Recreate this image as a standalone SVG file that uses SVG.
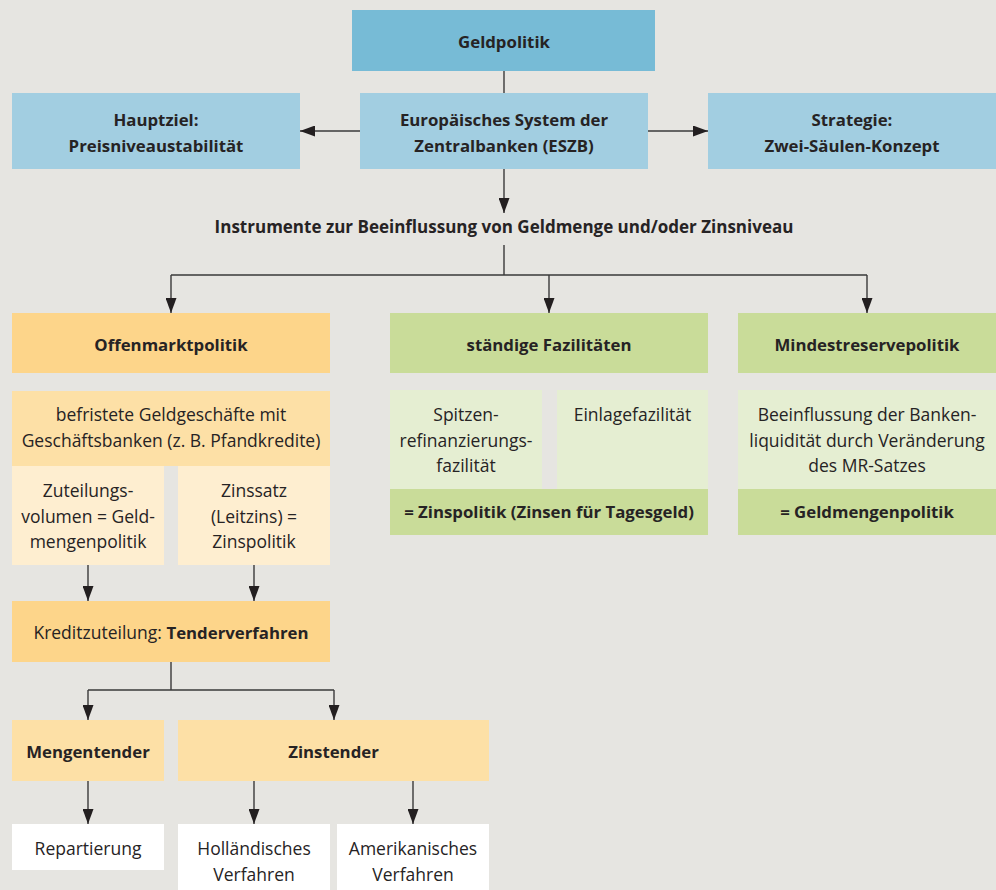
<svg xmlns="http://www.w3.org/2000/svg" width="996" height="890" viewBox="0 0 996 890">
<defs>
<style>
text{font-family:"Open Sans","Liberation Sans",sans-serif;font-size:17.5px;fill:#262324;text-anchor:middle}
.b{font-weight:bold;font-size:16.8px}
.c{stroke:#3a3a3a;stroke-width:1.4;fill:none}
.a{marker-end:url(#ah)}
.blue1{fill:#77bbd6}.blue2{fill:#a2cee1}
.or1{fill:#fdd58a}.or2{fill:#fde0a6}.or3{fill:#feeed0}
.gr1{fill:#c9dc99}.gr2{fill:#e5eed2}.wh{fill:#ffffff}
</style>
<marker id="ah" viewBox="0 0 15 11" refX="15" refY="5.5" markerWidth="15" markerHeight="11" markerUnits="userSpaceOnUse" orient="auto">
<path d="M0,0 L15,5.5 L0,11 z" fill="#231f20"/>
</marker>
</defs>
<rect width="996" height="890" fill="#e6e5e1"/>
<g id="connectors">
<path class="c" d="M504,71 V93"/>
<path class="c a" d="M360,131 H300"/>
<path class="c a" d="M648,131 H708"/>
<path class="c a" d="M504,169 V213"/>
<path class="c" d="M504,245 V275 M171,275 H867"/>
<path class="c a" d="M171,275 V313"/>
<path class="c a" d="M549,275 V313"/>
<path class="c a" d="M867,275 V313"/>
<path class="c a" d="M88,565 V601"/>
<path class="c a" d="M254,565 V601"/>
<path class="c" d="M171,662 V690 M88,690 H334"/>
<path class="c a" d="M88,690 V720"/>
<path class="c a" d="M334,690 V720"/>
<path class="c a" d="M88,781 V824"/>
<path class="c a" d="M254,781 V824"/>
<path class="c a" d="M413,781 V824"/>
</g>
<g id="geldpolitik"><rect class="blue1" x="352" y="10" width="303" height="61"/><text class="b" x="504" y="48">Geldpolitik</text></g>
<g id="hauptziel"><rect class="blue2" x="12" y="93" width="288" height="76"/><text class="b" x="156" y="126">Hauptziel:</text><text class="b" x="156" y="151.5">Preisniveaustabilität</text></g>
<g id="eszb"><rect class="blue2" x="360" y="93" width="288" height="76"/><text class="b" x="504" y="126">Europäisches System der</text><text class="b" x="504" y="151.5">Zentralbanken (ESZB)</text></g>
<g id="strategie"><rect class="blue2" x="708" y="93" width="288" height="76"/><text class="b" x="852" y="126">Strategie:</text><text class="b" x="852" y="151.5">Zwei-Säulen-Konzept</text></g>
<g id="instrumente"><text class="b" x="504" y="233" style="font-size:17px">Instrumente zur Beeinflussung von Geldmenge und/oder Zinsniveau</text></g>
<g id="offenmarkt"><rect class="or1" x="12" y="313" width="318" height="60"/><text class="b" x="171" y="350.5">Offenmarktpolitik</text></g>
<g id="fazilitaeten"><rect class="gr1" x="390" y="313" width="318" height="60"/><text class="b" x="549" y="350.5">ständige Fazilitäten</text></g>
<g id="mindestreserve"><rect class="gr1" x="738" y="313" width="258" height="60"/><text class="b" x="867" y="350.5">Mindestreservepolitik</text></g>
<g id="befristete"><rect class="or2" x="12" y="391" width="318" height="75"/><text x="171" y="421">befristete Geldgeschäfte mit</text><text x="171" y="447">Geschäftsbanken (z. B. Pfandkredite)</text></g>
<g id="zuteilungsvolumen"><rect class="or3" x="12" y="466" width="152" height="99"/><text x="88" y="497">Zuteilungs-</text><text x="88" y="522.5">volumen = Geld-</text><text x="88" y="548">mengenpolitik</text></g>
<g id="zinssatz"><rect class="or3" x="178" y="466" width="152" height="99"/><text x="254" y="497">Zinssatz</text><text x="254" y="522.5">(Leitzins) =</text><text x="254" y="548">Zinspolitik</text></g>
<g id="spitzen"><rect class="gr2" x="390" y="390" width="152" height="99"/><text x="466" y="421">Spitzen-</text><text x="466" y="447">refinanzierungs-</text><text x="466" y="472">fazilität</text></g>
<g id="einlage"><rect class="gr2" x="557" y="390" width="151" height="99"/><text x="632.5" y="421">Einlagefazilität</text></g>
<g id="zinspolitik"><rect class="gr1" x="390" y="489" width="318" height="46"/><text class="b" x="549" y="518">= Zinspolitik (Zinsen für Tagesgeld)</text></g>
<g id="beeinflussung"><rect class="gr2" x="738" y="390" width="258" height="99"/><text x="867" y="421">Beeinflussung der Banken-</text><text x="867" y="447">liquidität durch Veränderung</text><text x="867" y="472">des MR-Satzes</text></g>
<g id="geldmengenpolitik"><rect class="gr1" x="738" y="489" width="258" height="46"/><text class="b" x="867" y="518">= Geldmengenpolitik</text></g>
<g id="kreditzuteilung"><rect class="or1" x="12" y="601" width="318" height="61"/><text x="171" y="639">Kreditzuteilung: <tspan class="b">Tenderverfahren</tspan></text></g>
<g id="mengentender"><rect class="or2" x="12" y="720" width="152" height="61"/><text class="b" x="88" y="757.5">Mengentender</text></g>
<g id="zinstender"><rect class="or2" x="178" y="720" width="311" height="61"/><text class="b" x="333.5" y="757.5">Zinstender</text></g>
<g id="repartierung"><rect class="wh" x="12" y="824" width="152" height="46"/><text x="88" y="855">Repartierung</text></g>
<g id="hollaendisch"><rect class="wh" x="178" y="824" width="152" height="66"/><text x="254" y="855">Holländisches</text><text x="254" y="880.5">Verfahren</text></g>
<g id="amerikanisch"><rect class="wh" x="337" y="824" width="152" height="66"/><text x="413" y="855">Amerikanisches</text><text x="413" y="880.5">Verfahren</text></g>
</svg>
